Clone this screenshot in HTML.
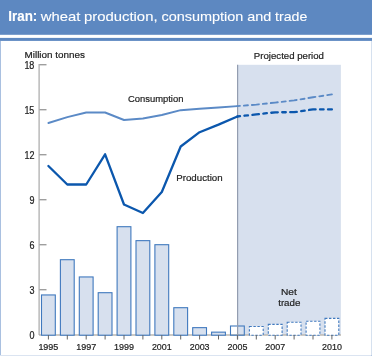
<!DOCTYPE html>
<html><head><meta charset="utf-8"><style>
html,body{margin:0;padding:0;background:#fff;}
body{width:372px;height:356px;overflow:hidden;position:relative;}
svg{position:absolute;left:0;top:0;display:block;will-change:transform;}
</style></head><body>
<svg width="372" height="356" viewBox="0 0 372 356">
<rect x="0" y="0" width="372" height="34.8" fill="#5d88c1"/>
<rect x="0" y="37.9" width="372" height="3.0" fill="#5d88c1"/>
<rect x="0" y="41" width="1" height="315" fill="#a9c0e0"/>
<rect x="371" y="41" width="1" height="315" fill="#d6e1ef"/>
<rect x="0" y="355" width="372" height="1" fill="#dbe4f1"/>
<rect x="371" y="355" width="1" height="1" fill="#b5c8e3"/>
<rect x="237.5" y="64.8" width="103.4" height="270.2" fill="#d7e0ee"/>
<line x1="39" y1="335" x2="341" y2="335" stroke="#bdb9b2" stroke-width="1.5"/>
<rect x="41.50" y="294.95" width="13.8" height="40.25" fill="#d7e0ee" stroke="#4079be" stroke-width="1.1"/>
<rect x="60.40" y="259.70" width="13.8" height="75.50" fill="#d7e0ee" stroke="#4079be" stroke-width="1.1"/>
<rect x="79.30" y="276.95" width="13.8" height="58.25" fill="#d7e0ee" stroke="#4079be" stroke-width="1.1"/>
<rect x="98.20" y="292.70" width="13.8" height="42.50" fill="#d7e0ee" stroke="#4079be" stroke-width="1.1"/>
<rect x="117.10" y="226.70" width="13.8" height="108.50" fill="#d7e0ee" stroke="#4079be" stroke-width="1.1"/>
<rect x="136.00" y="240.65" width="13.8" height="94.55" fill="#d7e0ee" stroke="#4079be" stroke-width="1.1"/>
<rect x="154.90" y="244.70" width="13.8" height="90.50" fill="#d7e0ee" stroke="#4079be" stroke-width="1.1"/>
<rect x="173.80" y="307.70" width="13.8" height="27.50" fill="#d7e0ee" stroke="#4079be" stroke-width="1.1"/>
<rect x="192.70" y="327.65" width="13.8" height="7.55" fill="#d7e0ee" stroke="#4079be" stroke-width="1.1"/>
<rect x="211.60" y="332.15" width="13.8" height="3.05" fill="#d7e0ee" stroke="#4079be" stroke-width="1.1"/>
<rect x="230.50" y="326.00" width="13.8" height="9.20" fill="none" stroke="#4079be" stroke-width="1.1"/>
<rect x="249.40" y="326.45" width="13.8" height="8.75" fill="#fff" stroke="#4079be" stroke-width="1.1" stroke-dasharray="2.4,1.6"/>
<rect x="268.30" y="324.35" width="13.8" height="10.85" fill="#fff" stroke="#4079be" stroke-width="1.1" stroke-dasharray="2.4,1.6"/>
<rect x="287.20" y="322.25" width="13.8" height="12.95" fill="#fff" stroke="#4079be" stroke-width="1.1" stroke-dasharray="2.4,1.6"/>
<rect x="306.10" y="321.20" width="13.8" height="14.00" fill="#fff" stroke="#4079be" stroke-width="1.1" stroke-dasharray="2.4,1.6"/>
<rect x="325.00" y="318.35" width="13.8" height="16.85" fill="#fff" stroke="#4079be" stroke-width="1.1" stroke-dasharray="2.4,1.6"/>
<line x1="237.6" y1="64.8" x2="237.6" y2="339.5" stroke="#939db0" stroke-width="1.2"/>
<line x1="39.1" y1="64" x2="39.1" y2="335" stroke="#a8a8a8" stroke-width="1.2"/>
<line x1="39.5" y1="64.75" x2="46.5" y2="64.75" stroke="#8a8a8a" stroke-width="1.15"/>
<line x1="39.5" y1="109.75" x2="46.5" y2="109.75" stroke="#8a8a8a" stroke-width="1.15"/>
<line x1="39.5" y1="154.75" x2="46.5" y2="154.75" stroke="#8a8a8a" stroke-width="1.15"/>
<line x1="39.5" y1="199.75" x2="46.5" y2="199.75" stroke="#8a8a8a" stroke-width="1.15"/>
<line x1="39.5" y1="244.75" x2="46.5" y2="244.75" stroke="#8a8a8a" stroke-width="1.15"/>
<line x1="39.5" y1="289.75" x2="46.5" y2="289.75" stroke="#8a8a8a" stroke-width="1.15"/>
<line x1="48.40" y1="335" x2="48.40" y2="339.5" stroke="#666" stroke-width="1"/>
<line x1="67.30" y1="335" x2="67.30" y2="339.5" stroke="#666" stroke-width="1"/>
<line x1="86.20" y1="335" x2="86.20" y2="339.5" stroke="#666" stroke-width="1"/>
<line x1="105.10" y1="335" x2="105.10" y2="339.5" stroke="#666" stroke-width="1"/>
<line x1="124.00" y1="335" x2="124.00" y2="339.5" stroke="#666" stroke-width="1"/>
<line x1="142.90" y1="335" x2="142.90" y2="339.5" stroke="#666" stroke-width="1"/>
<line x1="161.80" y1="335" x2="161.80" y2="339.5" stroke="#666" stroke-width="1"/>
<line x1="180.70" y1="335" x2="180.70" y2="339.5" stroke="#666" stroke-width="1"/>
<line x1="199.60" y1="335" x2="199.60" y2="339.5" stroke="#666" stroke-width="1"/>
<line x1="218.50" y1="335" x2="218.50" y2="339.5" stroke="#666" stroke-width="1"/>
<line x1="237.40" y1="335" x2="237.40" y2="339.5" stroke="#666" stroke-width="1"/>
<line x1="256.30" y1="335" x2="256.30" y2="339.5" stroke="#666" stroke-width="1"/>
<line x1="275.20" y1="335" x2="275.20" y2="339.5" stroke="#666" stroke-width="1"/>
<line x1="294.10" y1="335" x2="294.10" y2="339.5" stroke="#666" stroke-width="1"/>
<line x1="313.00" y1="335" x2="313.00" y2="339.5" stroke="#666" stroke-width="1"/>
<line x1="331.90" y1="335" x2="331.90" y2="339.5" stroke="#666" stroke-width="1"/>
<polyline points="48.40,123.00 67.30,117.20 86.20,112.50 105.10,112.50 124.00,120.00 142.90,118.50 161.80,115.00 180.70,110.20 199.60,108.80 218.50,107.50 237.40,106.10" fill="none" stroke="#5b8ac6" stroke-width="1.9" stroke-linejoin="round" stroke-linecap="round"/>
<polyline points="237.40,106.10 256.30,104.60 275.20,102.60 294.10,100.40 313.00,97.30 331.90,94.40" fill="none" stroke="#5b8ac6" stroke-width="1.9" stroke-linecap="round" stroke-dasharray="7.0,4.0,4.0,4.0" stroke-dashoffset="4.45"/>
<polyline points="48.40,166.00 67.30,184.50 86.20,184.50 105.10,154.30 124.00,204.50 142.90,213.00 161.80,192.00 180.70,146.50 199.60,132.20 218.50,124.60 237.40,116.50" fill="none" stroke="#0b57ad" stroke-width="2.3" stroke-linejoin="round" stroke-linecap="round"/>
<polyline points="237.40,116.50 256.30,114.40 275.20,112.30 294.10,112.20 313.00,109.40 331.90,109.40" fill="none" stroke="#0b57ad" stroke-width="2.3" stroke-linecap="round" stroke-dasharray="6.6,4.4,3.6,4.4" stroke-dashoffset="3.95"/>
<text id="t_iran" transform="translate(8.298,21.000) scale(1.0308,1.0817)" font-size="13" font-weight="bold" fill="#fff" stroke="#fff" stroke-width="0.1" font-family="Liberation Sans, sans-serif">Iran:</text>
<text id="t_wheat" transform="translate(40.800,21.000) scale(1.1408,1.0453)" font-size="13" font-weight="normal" fill="#fff" stroke="#fff" stroke-width="0.1" font-family="Liberation Sans, sans-serif">wheat</text>
<text id="t_prod" transform="translate(83.999,21.000) scale(1.1438,1.0453)" font-size="13" font-weight="normal" fill="#fff" stroke="#fff" stroke-width="0.1" font-family="Liberation Sans, sans-serif">production,</text>
<text id="t_cons" transform="translate(161.445,21.000) scale(1.1109,1.0453)" font-size="13" font-weight="normal" fill="#fff" stroke="#fff" stroke-width="0.1" font-family="Liberation Sans, sans-serif">consumption</text>
<text id="t_and" transform="translate(247.245,21.000) scale(1.1092,1.0453)" font-size="13" font-weight="normal" fill="#fff" stroke="#fff" stroke-width="0.1" font-family="Liberation Sans, sans-serif">and</text>
<text id="t_trade" transform="translate(275.027,21.000) scale(1.0922,1.0453)" font-size="13" font-weight="normal" fill="#fff" stroke="#fff" stroke-width="0.1" font-family="Liberation Sans, sans-serif">trade</text>
<text id="million" transform="translate(24.518,57.500) scale(1.0421,1.0036)" font-size="9.5" font-weight="normal" fill="#222" stroke="#222" stroke-width="0.2" font-family="Liberation Sans, sans-serif">Million tonnes</text>
<text id="projected" transform="translate(253.840,59.000) scale(1.0136,1.0327)" font-size="9.5" font-weight="normal" fill="#222" stroke="#222" stroke-width="0.2" font-family="Liberation Sans, sans-serif">Projected period</text>
<text id="consumption" transform="translate(127.903,101.700) scale(0.9932,0.9891)" font-size="9.5" font-weight="normal" fill="#222" stroke="#222" stroke-width="0.2" font-family="Liberation Sans, sans-serif">Consumption</text>
<text id="production" transform="translate(176.233,180.800) scale(1.0227,1.0182)" font-size="9.5" font-weight="normal" fill="#222" stroke="#222" stroke-width="0.2" font-family="Liberation Sans, sans-serif">Production</text>
<text id="net" transform="translate(280.896,295.000) scale(1.0714,1.0308)" font-size="9.5" font-weight="normal" fill="#222" stroke="#222" stroke-width="0.2" font-family="Liberation Sans, sans-serif">Net</text>
<text id="tradel" transform="translate(278.172,305.500) scale(1.0272,0.9164)" font-size="9.5" font-weight="normal" fill="#222" stroke="#222" stroke-width="0.2" font-family="Liberation Sans, sans-serif">trade</text>
<text id="y18" transform="translate(24.375,68.600) scale(1.0000,1.1440)" font-size="9" font-weight="normal" fill="#222" stroke="#222" stroke-width="0.2" font-family="Liberation Sans, sans-serif">18</text>
<text id="y15" transform="translate(24.375,113.600) scale(1.0000,1.1673)" font-size="9" font-weight="normal" fill="#222" stroke="#222" stroke-width="0.2" font-family="Liberation Sans, sans-serif">15</text>
<text id="y12" transform="translate(24.500,158.600) scale(1.0000,1.1440)" font-size="9" font-weight="normal" fill="#222" stroke="#222" stroke-width="0.2" font-family="Liberation Sans, sans-serif">12</text>
<text id="y9" transform="translate(29.375,203.600) scale(1.0000,1.1440)" font-size="9" font-weight="normal" fill="#222" stroke="#222" stroke-width="0.2" font-family="Liberation Sans, sans-serif">9</text>
<text id="y6" transform="translate(29.375,248.600) scale(1.0000,1.1440)" font-size="9" font-weight="normal" fill="#222" stroke="#222" stroke-width="0.2" font-family="Liberation Sans, sans-serif">6</text>
<text id="y3" transform="translate(29.375,293.600) scale(1.0000,1.1440)" font-size="9" font-weight="normal" fill="#222" stroke="#222" stroke-width="0.2" font-family="Liberation Sans, sans-serif">3</text>
<text id="y0" transform="translate(29.375,338.600) scale(1.0000,1.1440)" font-size="9" font-weight="normal" fill="#222" stroke="#222" stroke-width="0.2" font-family="Liberation Sans, sans-serif">0</text>
<text id="x1995" transform="translate(38.375,349.600) scale(1.0000,1.0240)" font-size="9" font-weight="normal" fill="#222" stroke="#222" stroke-width="0.2" font-family="Liberation Sans, sans-serif">1995</text>
<text id="x1997" transform="translate(76.175,349.600) scale(1.0000,1.0240)" font-size="9" font-weight="normal" fill="#222" stroke="#222" stroke-width="0.2" font-family="Liberation Sans, sans-serif">1997</text>
<text id="x1999" transform="translate(113.975,349.600) scale(1.0000,1.0240)" font-size="9" font-weight="normal" fill="#222" stroke="#222" stroke-width="0.2" font-family="Liberation Sans, sans-serif">1999</text>
<text id="x2001" transform="translate(151.903,349.600) scale(0.9935,1.0240)" font-size="9" font-weight="normal" fill="#222" stroke="#222" stroke-width="0.2" font-family="Liberation Sans, sans-serif">2001</text>
<text id="x2003" transform="translate(189.703,349.600) scale(0.9935,1.0240)" font-size="9" font-weight="normal" fill="#222" stroke="#222" stroke-width="0.2" font-family="Liberation Sans, sans-serif">2003</text>
<text id="x2005" transform="translate(227.503,349.600) scale(0.9935,1.0240)" font-size="9" font-weight="normal" fill="#222" stroke="#222" stroke-width="0.2" font-family="Liberation Sans, sans-serif">2005</text>
<text id="x2007" transform="translate(265.303,349.600) scale(0.9935,1.0240)" font-size="9" font-weight="normal" fill="#222" stroke="#222" stroke-width="0.2" font-family="Liberation Sans, sans-serif">2007</text>
<text id="x2010" transform="translate(322.003,349.600) scale(0.9935,1.0240)" font-size="9" font-weight="normal" fill="#222" stroke="#222" stroke-width="0.2" font-family="Liberation Sans, sans-serif">2010</text>
</svg>
</body></html>
